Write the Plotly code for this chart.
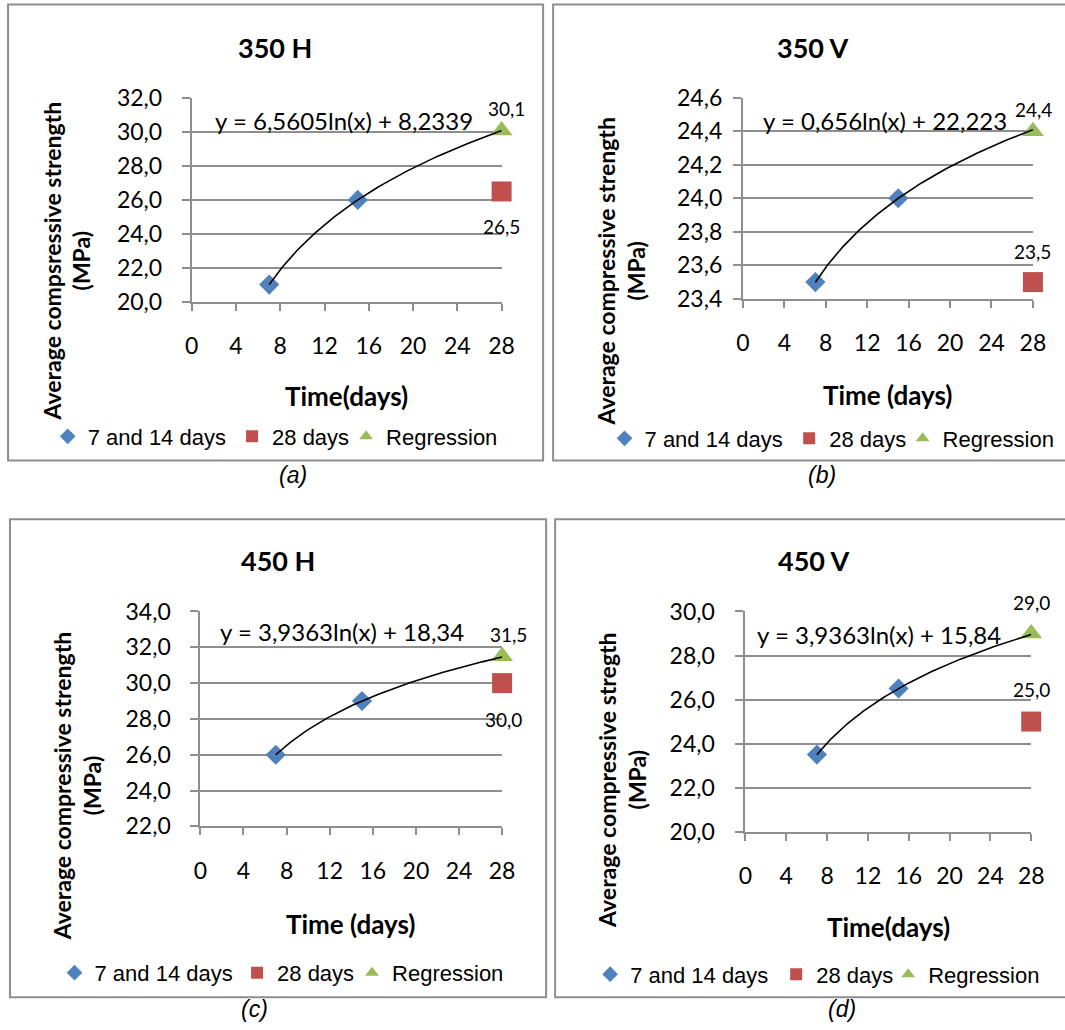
import numpy as np
import plotly.graph_objects as go

W, H = 1065, 1030

# ---------------- data ----------------
panel_titles = ["350 H", "350 V", "450 H", "450 V"]
captions = ["(a)", "(b)", "(c)", "(d)"]
y_titles = ["Average compsressive strength", "Average compressive strength",
            "Average compressive strength", "Average compressive stregth"]
y_unit = "(MPa)"
x_titles = ["Time(days)", "Time (days)", "Time (days)", "Time(days)"]
legend_names = ["7 and 14 days", "28 days", "Regression"]

early_days = [7, 15]
early_350H = [21.0, 26.0]
early_350V = [23.5, 24.0]
early_450H = [26.0, 29.0]
early_450V = [23.5, 26.5]

final_day = [28]
day28_350H = [26.5]
day28_350V = [23.5]
day28_450H = [30.0]
day28_450V = [25.0]

regr_350H = [30.1]
regr_350V = [24.4]
regr_450H = [31.5]
regr_450V = [29.0]

slopes = [6.5605, 0.656, 3.9363, 3.9363]
intercepts = [8.2339, 22.223, 18.34, 15.84]
equations = ["y = 6,5605ln(x) + 8,2339", "y = 0,656ln(x) + 22,223",
             "y = 3,9363ln(x) + 18,34", "y = 3,9363ln(x) + 15,84"]

x_ticks = [0, 4, 8, 12, 16, 20, 24, 28]
y_ticks_350H = [20, 22, 24, 26, 28, 30, 32]
y_ticks_350V = [23.4, 23.6, 23.8, 24.0, 24.2, 24.4, 24.6]
y_ticks_450H = [22, 24, 26, 28, 30, 32, 34]
y_ticks_450V = [20, 22, 24, 26, 28, 30]

early_sets = [early_350H, early_350V, early_450H, early_450V]
day28_sets = [day28_350H, day28_350V, day28_450H, day28_450V]
regr_sets = [regr_350H, regr_350V, regr_450H, regr_450V]
y_tick_sets = [y_ticks_350H, y_ticks_350V, y_ticks_450H, y_ticks_450V]

# ---------------- layout geometry (target picture pixels) ----------------
plot_boxes = [(190.7, 500.5, 99.0, 302.7), (741.7, 1031.7, 98.3, 300.0),
              (199.3, 501.0, 613.3, 828.7), (744.3, 1030.0, 613.3, 834.0)]
borders = [(6, 5, 542, 462), (552, 5, 1090, 462), (9, 521, 545, 1000), (554, 521, 1090, 1000)]
title_pos = [(274, 47.7), (812, 47.7), (276.5, 562.6), (812.4, 562.6)]
ytitle_pos = [(65.5, 262), (619.5, 273), (75.5, 789), (621, 782)]
xtitle_pos = [(345.5, 397), (886.7, 396.7), (350, 926.7), (887, 929.6)]
caption_pos = [(292, 476.7), (821, 476.7), (253.5, 1012), (841, 1012)]
eq_pos = [(211.7, 121.7), (760, 121.7), (216.7, 633.3), (754.3, 636.7)]
legend_y = [438, 440, 975.5, 977]
legend_sym_x = [(74.7, 259, 373), (631.4, 816, 929.4), (81.5, 264, 379), (617, 803, 915)]
ytick_standoff = [15, 6, 15, 16]
xtick_standoff = 16
regr_label_shift = [(5, 22), (1, 22), (6, 22), (0, 31)]
d28_label_shift = [(0, -35), (0, 31), (1, -36), (0, 32)]

# observed mapping of page pixels onto the returned picture (scale, offset)
SX, OX = 0.981, 6.0
SY, OY = 0.975, 15.5

GRAY = "#8e8e8e"
CAL = "Lato"
ARIAL = "Liberation Sans"
BLUE, RED, GREEN = "#4F81BD", "#C0504D", "#9BBB59"


def px(x):
    return ((x - OX) / SX) / W


def py(y):
    return 1 - ((y - OY) / SY) / H


def fmt(v):
    return f"{v:.1f}".replace(".", ",")


fig = go.Figure()
annotations = []
shapes = []
layout = {}
legend_count = 0

for i in range(4):
    xa = "x" if i == 0 else f"x{i+1}"
    ya = "y" if i == 0 else f"y{i+1}"
    xkey = "xaxis" if i == 0 else f"xaxis{i+1}"
    ykey = "yaxis" if i == 0 else f"yaxis{i+1}"
    x0, x1, ytop, ybot = plot_boxes[i]
    yt = y_tick_sets[i]
    eps = (yt[-1] - yt[0]) * 1e-6

    layout[xkey] = dict(
        domain=[px(x0), px(x1)], anchor=ya, range=[0, 28],
        tickmode="array", tickvals=x_ticks, ticktext=[str(t) for t in x_ticks],
        showgrid=False, zeroline=False, showline=True, linecolor=GRAY, linewidth=2,
        ticks="outside", ticklen=7, tickwidth=2, tickcolor=GRAY,
        tickfont=dict(family=CAL, size=23, color="black"), ticklabelstandoff=xtick_standoff,
    )
    layout[ykey] = dict(
        domain=[py(ybot), py(ytop)], anchor=xa, range=[yt[0] - eps, yt[-1] + eps],
        tickmode="array", tickvals=yt, tickformat=".1f",
        showgrid=True, gridcolor=GRAY, gridwidth=2, zeroline=False,
        showline=True, linecolor=GRAY, linewidth=2,
        ticks="outside", ticklen=8, tickwidth=2, tickcolor=GRAY,
        tickfont=dict(family=CAL, size=23, color="black"),
        ticklabelstandoff=ytick_standoff[i],
    )

    series = [
        (early_days, early_sets[i], "diamond", 15.5, BLUE, legend_names[0]),
        (final_day, day28_sets[i], "square", 20, RED, legend_names[1]),
        (final_day, regr_sets[i], "triangle-up", 19, GREEN, legend_names[2]),
    ]
    for k, (xs, ys, sym, size, col, name) in enumerate(series):
        legend_count += 1
        lid = "legend" if legend_count == 1 else f"legend{legend_count}"
        fig.add_trace(go.Scatter(
            x=xs, y=ys, mode="markers", name=name, xaxis=xa, yaxis=ya,
            marker=dict(symbol=sym, size=size, color=col, line=dict(width=0)),
            cliponaxis=False, legend=lid, showlegend=True,
        ))
        layout[lid] = dict(
            x=px(legend_sym_x[i][k] - 28), y=py(legend_y[i]),
            xanchor="left", yanchor="middle", orientation="h",
            font=dict(family=ARIAL, size=22, color="black"),
            bgcolor="rgba(0,0,0,0)", borderwidth=0, itemsizing="constant",
        )

    # logarithmic trendline from the regression coefficients
    tx = np.linspace(early_days[0], final_day[0], 120)
    fig.add_trace(go.Scatter(
        x=tx, y=slopes[i] * np.log(tx) + intercepts[i], mode="lines",
        line=dict(color="black", width=1.6), xaxis=xa, yaxis=ya,
        showlegend=False, cliponaxis=False, hoverinfo="skip",
    ))

    # data labels
    annotations.append(dict(
        x=final_day[0], y=regr_sets[i][0], xref=xa, yref=ya, text=fmt(regr_sets[i][0]),
        showarrow=False, xshift=regr_label_shift[i][0], yshift=regr_label_shift[i][1],
        font=dict(family=CAL, size=19, color="black"),
    ))
    annotations.append(dict(
        x=final_day[0], y=day28_sets[i][0], xref=xa, yref=ya, text=fmt(day28_sets[i][0]),
        showarrow=False, xshift=d28_label_shift[i][0], yshift=d28_label_shift[i][1],
        font=dict(family=CAL, size=19, color="black"),
    ))
    # equation
    annotations.append(dict(
        x=px(eq_pos[i][0]), y=py(eq_pos[i][1]), xref="paper", yref="paper",
        xanchor="left", yanchor="middle", text=equations[i], showarrow=False,
        font=dict(family=CAL, size=24, color="black"),
    ))
    # title
    annotations.append(dict(
        x=px(title_pos[i][0]), y=py(title_pos[i][1]), xref="paper", yref="paper",
        xanchor="center", yanchor="middle", text=f"<b>{panel_titles[i]}</b>", showarrow=False,
        font=dict(family=CAL, size=27, color="black"),
    ))
    # y title
    annotations.append(dict(
        x=px(ytitle_pos[i][0]), y=py(ytitle_pos[i][1]), xref="paper", yref="paper",
        xanchor="center", yanchor="middle", textangle=-90,
        text=f"<b>{y_titles[i]}<br>{y_unit}</b>", showarrow=False,
        font=dict(family=CAL, size=23, color="black"),
    ))
    # x title
    annotations.append(dict(
        x=px(xtitle_pos[i][0]), y=py(xtitle_pos[i][1]), xref="paper", yref="paper",
        xanchor="center", yanchor="middle", text=f"<b>{x_titles[i]}</b>", showarrow=False,
        font=dict(family=CAL, size=26, color="black"),
    ))
    # caption
    annotations.append(dict(
        x=px(caption_pos[i][0]), y=py(caption_pos[i][1]), xref="paper", yref="paper",
        xanchor="center", yanchor="middle", text=f"<i>{captions[i]}</i>", showarrow=False,
        font=dict(family=ARIAL, size=23, color="black"),
    ))
    bx0, by0, bx1, by1 = borders[i]
    shapes.append(dict(
        type="rect", xref="paper", yref="paper",
        x0=max(px(bx0), 0.001), x1=px(bx1), y0=py(by1), y1=py(by0),
        line=dict(color=GRAY, width=2), fillcolor="rgba(0,0,0,0)",
    ))

fig.update_layout(
    width=W, height=H, margin=dict(l=0, r=0, t=0, b=0),
    paper_bgcolor="white", plot_bgcolor="white",
    separators=",.", annotations=annotations, shapes=shapes,
    **layout,
)

fig.write_html(
    "out.html",
    config={"displayModeBar": False},
    post_script=(
        "document.body.style.margin='0';"
        "document.body.style.overflow='hidden';"
        "document.documentElement.style.overflow='hidden';"
    ),
)
